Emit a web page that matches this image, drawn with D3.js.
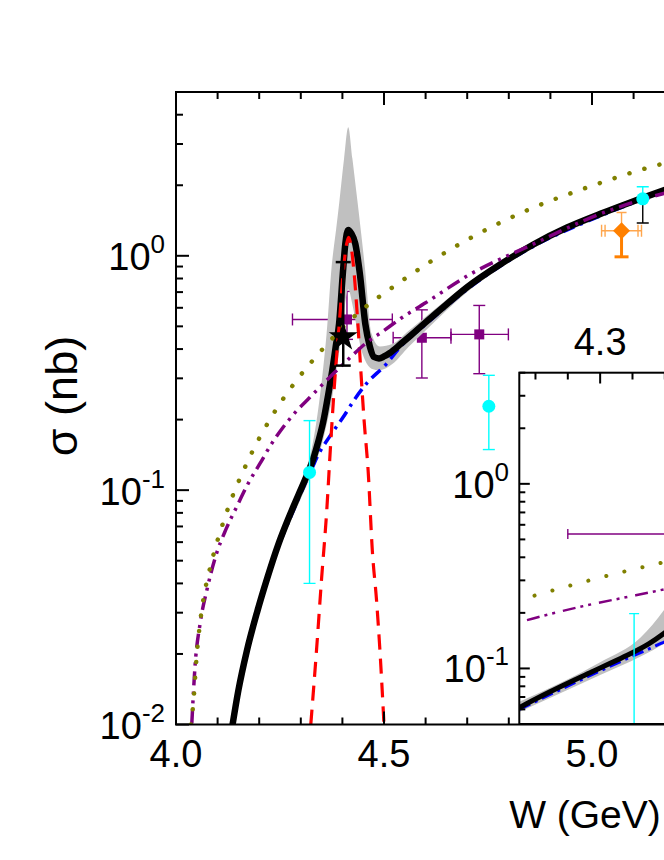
<!DOCTYPE html>
<html lang="en">
<head>
	<meta charset="UTF-8">
	<title>sigma vs W</title>
	<style>
		body { margin: 0; background: #fff; }
		svg text { font-family: "Liberation Sans", Arial, sans-serif; fill: #000; }
	</style>
</head>
<body>
	<script src="https://d3js.org/d3.v7.min.js"></script>
	<script>
		// ---- data: [W (GeV), sigma (nb)] ----
		var totalCurve = [[4.136,0.0100],[4.150,0.0140],[4.170,0.0205],[4.195,0.0302],[4.220,0.0425],[4.245,0.058],
			[4.270,0.0755],[4.295,0.096],[4.315,0.116],[4.330,0.136],[4.342,0.161],[4.354,0.196],[4.366,0.256],
			[4.376,0.327],[4.384,0.41],[4.392,0.513],[4.401,0.838],[4.407,1.125],[4.414,1.29],[4.421,1.25],
			[4.431,1.125],[4.442,0.838],[4.455,0.513],[4.466,0.41],[4.476,0.37],[4.488,0.365],[4.500,0.372],
			[4.514,0.385],[4.540,0.42],[4.560,0.45],[4.600,0.52],[4.650,0.62],[4.700,0.735],[4.780,0.92],
			[4.860,1.12],[4.940,1.32],[5.020,1.51],[5.100,1.71],[5.200,1.98]];

		var backgroundCurve = [[4.25,0.060],[4.30,0.097],[4.333,0.131],[4.338,0.137],[4.370,0.17],[4.402,0.205],
			[4.430,0.245],[4.458,0.285],[4.506,0.346],[4.540,0.41],[4.600,0.51],[4.700,0.72],[4.860,1.10],
			[5.020,1.48],[5.200,1.95]];

		var resonanceCurve = [[4.324,0.010],[4.338,0.021],[4.350,0.042],[4.362,0.08],[4.372,0.16],[4.382,0.30],
			[4.392,0.50],[4.402,0.85],[4.410,1.12],[4.415,1.20],[4.420,1.12],[4.428,0.85],[4.436,0.55],
			[4.444,0.33],[4.452,0.20],[4.462,0.12],[4.472,0.055],[4.482,0.034],[4.490,0.021],[4.500,0.010]];

		var purpleCurve = [[4.038,0.0101],[4.046,0.018],[4.058,0.027],[4.075,0.038],[4.095,0.052],[4.120,0.068],
			[4.146,0.085],[4.175,0.108],[4.202,0.13],[4.230,0.158],[4.258,0.186],[4.290,0.218],[4.322,0.249],
			[4.350,0.28],[4.378,0.314],[4.413,0.36],[4.454,0.42],[4.500,0.48],[4.540,0.54],[4.600,0.63],
			[4.700,0.82],[4.860,1.125],[5.020,1.51],[5.170,1.84],[5.200,1.90]];

		var oliveCurve = [[4.036,0.0100],[4.0416,0.0123],[4.0498,0.0197],[4.0577,0.027],[4.0697,0.0374],
			[4.0776,0.0433],[4.122,0.0807],[4.170,0.130],[4.230,0.206],[4.282,0.282],[4.346,0.388],[4.418,0.530],
			[4.538,0.771],[4.687,1.136],[4.839,1.55],[4.995,1.976],[5.147,2.41],[5.200,2.55]];

		// error band of the total curve
		var bandW  = [4.25, 4.30, 4.325, 4.34, 4.352, 4.362, 4.374, 4.385, 4.393, 4.404, 4.414, 4.424, 4.436, 4.445, 4.454, 4.470, 4.49, 4.52, 4.56, 4.60, 4.70, 4.86, 5.02, 5.20];
		var bandHi = [0.066, 0.108, 0.147, 0.21, 0.31, 0.466, 0.894, 1.3, 1.72, 2.6, 3.54, 2.6, 1.72, 1.25, 0.894, 0.466, 0.41, 0.42, 0.48, 0.55, 0.76, 1.15, 1.55, 2.03];
		var bandLo = [0.058, 0.092, 0.116, 0.137, 0.16, 0.19, 0.24, 0.32, 0.40, 0.58, 0.72, 0.62, 0.48, 0.40, 0.36, 0.33, 0.325, 0.345, 0.41, 0.48, 0.70, 1.08, 1.46, 1.92];

		// data points
		// [W, sigma, sigmaLow, sigmaHigh, Wlow, Whigh]
		var purplePoints = [[4.411,0.535,0.44,0.705,4.280,4.520],[4.591,0.447,0.301,0.588,4.522,4.661],[4.729,0.462,0.314,0.614,4.661,4.799]];
		// [W, sigma, sigmaLow, sigmaHigh]
		var cyanPoints = [[4.321,0.119,0.040,0.198],[4.752,0.228,0.149,0.309],[5.122,1.75,1.75,1.97]];
		var starPoints = [[4.402,0.45,0.34,0.94]];
		var blackBars = [[5.122,1.75,1.38]];
		// [W, sigma, sigmaLow(syst), sigmaHigh(stat), Wlow, Whigh]
		var orangePoints = [[5.071,1.28,0.99,1.53,5.023,5.119]];

		// ticks
		var xMajor = [4.0, 4.5, 5.0];
		var xMajorLabels = ["4.0", "4.5", "5.0"];
		var xMinor = [4.1, 4.2, 4.3, 4.4, 4.6, 4.7, 4.8, 4.9, 5.1];
		var yMajor = [0.01, 0.1, 1];
		var yExp = ["-2", "-1", "0"];
		var insetXMajor = [4.3];
		var insetXLabels = ["4.3"];
		var insetXMinor = [4.26, 4.28, 4.32, 4.34];
		var insetYMajor = [0.1, 1];
		var insetYExp = ["-1", "0"];

		var w = 664, h = 860;
		var svg = d3.select("body").append("svg").attr("width", w).attr("height", h);

		var x = d3.scaleLinear().domain([4.0, 5.2]).range([176, 675.2]);
		var y = d3.scaleLog().domain([0.01, 5]).range([724.5, 92]);
		var xi = d3.scaleLinear().domain([4.25, 4.35]).range([519.3, 681]);
		var yi = d3.scaleLog().domain([0.05, 4]).range([724, 372.7]);

		var defs = svg.append("defs");
		defs.append("clipPath").attr("id", "clipMain").append("rect")
			.attr("x", 176).attr("y", 92).attr("width", 500).attr("height", 632.5);
		defs.append("clipPath").attr("id", "clipInset").append("rect")
			.attr("x", 519.3).attr("y", 372.7).attr("width", 170).attr("height", 351.3);

		var mainStyle = {black: 6.5, blue: 3.5, blueDash: "12 6 3 6", red: 3.2, redDash: "15 9",
			purple: 3.5, purpleDash: "14 6 3 6 3 6", olive: 4.5, oliveDash: "0.1 15.5"};
		var insetStyle = {black: 5, blue: 3, blueDash: "12 5 3 5", red: 3, redDash: "15 9",
			purple: 2.5, purpleDash: "13 5 3 5 3 8", olive: 4, oliveDash: "0.1 18.5"};

		function drawCurves(g, sx, sy, st, withRed) {
			var line = d3.line().x(function(d) {return sx(d[0])}).y(function(d) {return sy(d[1])}).curve(d3.curveMonotoneX);
			var area = d3.area().x(function(d) {return sx(d[0])})
				.y0(function(d) {return sy(d[1])}).y1(function(d) {return sy(d[2])}).curve(d3.curveMonotoneX);
			var band = bandW.map(function(v, i) {return [v, bandLo[i], bandHi[i]]});
			g.append("path").datum(band).attr("d", area).attr("fill", "#c0c0c0");

			g.append("path").datum(backgroundCurve).attr("d", line).attr("fill", "none")
				.attr("stroke", "#0000ff").attr("stroke-width", st.blue).attr("stroke-dasharray", st.blueDash);
			g.append("path").datum(totalCurve).attr("d", line).attr("fill", "none")
				.attr("stroke", "#000").attr("stroke-width", st.black).attr("stroke-linejoin", "round");
			if (withRed) {
				g.append("path").datum(resonanceCurve).attr("d", line).attr("fill", "none")
					.attr("stroke", "#ff0000").attr("stroke-width", st.red).attr("stroke-dasharray", st.redDash);
			}
			g.append("path").datum(purpleCurve).attr("d", line).attr("fill", "none")
				.attr("stroke", "#800080").attr("stroke-width", st.purple).attr("stroke-dasharray", st.purpleDash);
			g.append("path").datum(oliveCurve).attr("d", line).attr("fill", "none")
				.attr("stroke", "#808000").attr("stroke-width", st.olive).attr("stroke-dasharray", st.oliveDash)
				.attr("stroke-linecap", "round");
		}

		function seg(g, x1, y1, x2, y2, color, sw) {
			g.append("line").attr("x1", x1).attr("y1", y1).attr("x2", x2).attr("y2", y2)
				.attr("stroke", color).attr("stroke-width", sw);
		}

		function powLabel(g, xp, yp, exp) {
			var t = g.append("text").attr("x", xp).attr("y", yp).attr("text-anchor", "end").attr("font-size", 38);
			t.append("tspan").text("10");
			t.append("tspan").attr("dy", -17).attr("font-size", 26).text(exp);
		}

		// ---------------- main plot ----------------
		var gMain = svg.append("g").attr("clip-path", "url(#clipMain)");

		// purple points sit under the curves
		purplePoints.forEach(function(p) {
			var cx = x(p[0]), cy = y(p[1]);
			seg(gMain, x(p[4]), cy, x(p[5]), cy, "#800080", 1.4);
			seg(gMain, x(p[4]), cy - 6, x(p[4]), cy + 6, "#800080", 1.4);
			seg(gMain, x(p[5]), cy - 6, x(p[5]), cy + 6, "#800080", 1.4);
			seg(gMain, cx, y(p[2]), cx, y(p[3]), "#800080", 1.4);
			seg(gMain, cx - 6, y(p[2]), cx + 6, y(p[2]), "#800080", 1.4);
			seg(gMain, cx - 6, y(p[3]), cx + 6, y(p[3]), "#800080", 1.4);
			gMain.append("rect").attr("x", cx - 5).attr("y", cy - 5).attr("width", 10).attr("height", 10).attr("fill", "#800080");
		});

		drawCurves(gMain, x, y, mainStyle, true);

		blackBars.forEach(function(p) {
			var cx = x(p[0]);
			seg(gMain, cx, y(p[1]), cx, y(p[2]), "#000", 1.4);
			seg(gMain, cx - 6, y(p[2]), cx + 6, y(p[2]), "#000", 1.4);
		});

		cyanPoints.forEach(function(p) {
			var cx = x(p[0]), cy = y(p[1]);
			seg(gMain, cx, y(p[2]), cx, y(p[3]), "#00ffff", 1.4);
			if (p[2] < p[1]) seg(gMain, cx - 6, y(p[2]), cx + 6, y(p[2]), "#00ffff", 1.4);
			seg(gMain, cx - 6, y(p[3]), cx + 6, y(p[3]), "#00ffff", 1.4);
			gMain.append("circle").attr("cx", cx).attr("cy", cy).attr("r", 6.5).attr("fill", "#00ffff");
		});

		starPoints.forEach(function(p) {
			var cx = x(p[0]), cy = y(p[1]);
			seg(gMain, cx, y(p[2]), cx, y(p[3]), "#000", 2.5);
			seg(gMain, cx - 7.5, y(p[2]), cx + 7.5, y(p[2]), "#000", 2.5);
			seg(gMain, cx - 7.5, y(p[3]), cx + 7.5, y(p[3]), "#000", 2.5);
			gMain.append("path").attr("d", d3.symbol().type(d3.symbolStar).size(260)())
				.attr("transform", "translate(" + cx + "," + cy + ")").attr("fill", "#000");
		});

		orangePoints.forEach(function(p) {
			var cx = x(p[0]), cy = y(p[1]);
			var light = "#ffa64d", dark = "#ff8000";
			seg(gMain, x(p[4]), cy, x(p[5]), cy, light, 1.4);
			[x(p[4]), x(p[4]) + 3.5, x(p[5]), x(p[5]) - 3.5].forEach(function(xx) {
				seg(gMain, xx, cy - 6, xx, cy + 6, light, 1.4);
			});
			seg(gMain, cx, cy, cx, y(p[3]), light, 1.4);
			seg(gMain, cx - 5, y(p[3]), cx + 5, y(p[3]), light, 1.4);
			seg(gMain, cx, cy, cx, y(p[2]), dark, 3);
			seg(gMain, cx - 7, y(p[2]), cx + 7, y(p[2]), dark, 3);
			gMain.append("rect").attr("x", -6).attr("y", -6).attr("width", 12).attr("height", 12)
				.attr("fill", dark).attr("transform", "translate(" + cx + "," + cy + ") rotate(45)");
		});

		// main frame and ticks
		var gAx = svg.append("g");
		gAx.append("rect").attr("x", 176).attr("y", 92).attr("width", 499.2).attr("height", 632.5)
			.attr("fill", "none").attr("stroke", "#000").attr("stroke-width", 2);

		xMajor.forEach(function(v) {
			seg(gAx, x(v), 724.5, x(v), 711.5, "#000", 2);
			seg(gAx, x(v), 92, x(v), 105, "#000", 2);
		});
		xMinor.forEach(function(v) {
			seg(gAx, x(v), 724.5, x(v), 717.5, "#000", 2);
			seg(gAx, x(v), 92, x(v), 99, "#000", 2);
		});
		y.ticks().forEach(function(v) {
			var major = yMajor.indexOf(v) >= 0;
			seg(gAx, 176, y(v), 176 + (major ? 13 : 7), y(v), "#000", 2);
		});

		gAx.selectAll("text.xl").data(xMajor).enter().append("text")
			.attr("x", function(d) {return x(d)}).attr("y", 767)
			.attr("text-anchor", "middle").attr("font-size", 38)
			.text(function(d, i) {return xMajorLabels[i]});
		yMajor.forEach(function(v, i) {powLabel(gAx, 165, y(v) + 14.5, yExp[i]);});

		svg.append("text").attr("x", 585).attr("y", 828).attr("text-anchor", "middle")
			.attr("font-size", 39).text("W (GeV)");
		svg.append("text").attr("transform", "translate(77,396) rotate(-90)").attr("text-anchor", "middle")
			.attr("font-size", 45).text("σ (nb)");

		// ---------------- inset ----------------
		svg.append("rect").attr("x", 519.3).attr("y", 372.7).attr("width", 170).attr("height", 351.3)
			.attr("fill", "#fff");
		var gIn = svg.append("g").attr("clip-path", "url(#clipInset)");
		drawCurves(gIn, xi, yi, insetStyle, false);

		cyanPoints.forEach(function(p) {
			var cx = xi(p[0]);
			seg(gIn, cx, yi(p[2]), cx, yi(p[3]), "#00ffff", 1.4);
			seg(gIn, cx - 5, yi(p[3]), cx + 5, yi(p[3]), "#00ffff", 1.4);
		});
		purplePoints.forEach(function(p) {
			var cy = yi(p[1]);
			seg(gIn, xi(p[4]), cy, xi(p[5]), cy, "#800080", 1.4);
			seg(gIn, xi(p[4]), cy - 5, xi(p[4]), cy + 5, "#800080", 1.4);
		});

		var gIa = svg.append("g");
		gIa.append("rect").attr("x", 519.3).attr("y", 372.7).attr("width", 170).attr("height", 351.3)
			.attr("fill", "none").attr("stroke", "#000").attr("stroke-width", 2);
		insetXMajor.forEach(function(v) {seg(gIa, xi(v), 372.7, xi(v), 383.5, "#000", 2);});
		insetXMinor.forEach(function(v) {seg(gIa, xi(v), 372.7, xi(v), 379.5, "#000", 2);});
		yi.ticks().forEach(function(v) {
			var major = insetYMajor.indexOf(v) >= 0;
			seg(gIa, 519.3, yi(v), 519.3 + (major ? 10.5 : 6), yi(v), "#000", 2);
		});
		gIa.selectAll("text.xl").data(insetXMajor).enter().append("text")
			.attr("x", function(d) {return xi(d)}).attr("y", 355)
			.attr("text-anchor", "middle").attr("font-size", 38)
			.text(function(d, i) {return insetXLabels[i]});
		insetYMajor.forEach(function(v, i) {powLabel(gIa, 509, yi(v) + 14, insetYExp[i]);});
	</script>
</body>
</html>
